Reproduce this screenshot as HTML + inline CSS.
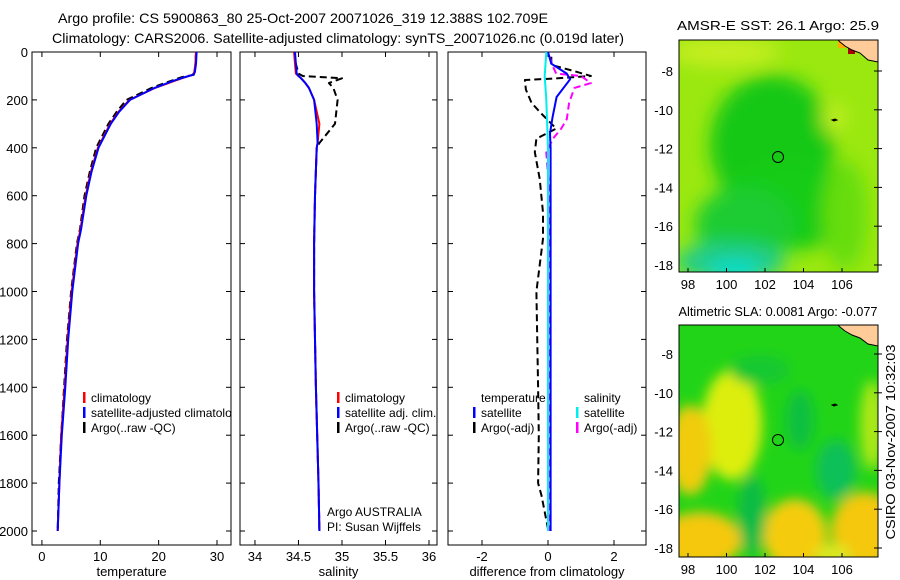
<!DOCTYPE html>
<html><head><meta charset="utf-8">
<style>
html,body{margin:0;padding:0;background:#fff;}
svg{display:block;font-family:"Liberation Sans",sans-serif;font-size:13px;}
</style></head>
<body>
<svg id="chart" width="900" height="580" viewBox="0 0 900 580">
<defs>
<filter id="blur" x="-50%" y="-50%" width="200%" height="200%"><feGaussianBlur stdDeviation="9"/></filter>
<filter id="blur2" x="-50%" y="-50%" width="200%" height="200%"><feGaussianBlur stdDeviation="6"/></filter>
<clipPath id="clipTop"><rect x="679" y="40" width="199" height="232"/></clipPath>
<clipPath id="clipBot"><rect x="679" y="325" width="199" height="232"/></clipPath>
<clipPath id="c1"><rect x="32" y="52" width="199" height="493"/></clipPath>
<clipPath id="c2"><rect x="240" y="52" width="197" height="493"/></clipPath>
<clipPath id="c3"><rect x="448" y="52" width="198" height="493"/></clipPath>
</defs>
<text x="58" y="23" textLength="490" lengthAdjust="spacingAndGlyphs" font-size="14">Argo profile: CS 5900863_80 25-Oct-2007 20071026_319 12.388S 102.709E</text>
<text x="52" y="43" textLength="572" lengthAdjust="spacingAndGlyphs" font-size="14">Climatology: CARS2006. Satellite-adjusted climatology: synTS_20071026.nc (0.019d later)</text>
<g id="panels"></g>

<!-- SST map -->
<text x="778" y="30" text-anchor="middle" textLength="202" lengthAdjust="spacingAndGlyphs">AMSR-E SST: 26.1 Argo: 25.9</text>
<g clip-path="url(#clipTop)">
<rect x="679" y="40" width="199" height="232" fill="#9ae810"/>
<g filter="url(#blur)">
<ellipse cx="772" cy="145" rx="62" ry="70" fill="#14c814"/>
<ellipse cx="790" cy="205" rx="70" ry="45" fill="#18cc18"/>
<ellipse cx="745" cy="225" rx="50" ry="38" fill="#1ccc30"/>
<ellipse cx="730" cy="262" rx="55" ry="20" fill="#22cc88"/>
<ellipse cx="735" cy="272" rx="28" ry="12" fill="#00dccc"/>
<ellipse cx="845" cy="215" rx="22" ry="55" fill="#66dd08"/>
<ellipse cx="834" cy="118" rx="12" ry="16" fill="#c0ee22"/>
<ellipse cx="725" cy="52" rx="55" ry="14" fill="#c8ee22"/>
</g>
<rect x="838" y="40" width="8" height="8" fill="#ffaa00"/>
<rect x="850" y="40" width="7" height="7" fill="#ff8800"/>
<rect x="848" y="47" width="7" height="7" fill="#aa0000"/>
<polygon points="838,40 878,40 878,62 868,60 860,53 852,50 845,46 840,42" fill="#ffcc99" stroke="#000" stroke-width="1"/>
<path d="M832,120 l3,-1 l2,1 l-3,1z" stroke="#000" fill="#000"/>
<circle cx="778" cy="157" r="5.5" fill="none" stroke="#000"/>
</g>
<rect x="679" y="40" width="199" height="232" fill="none" stroke="#000"/>

<!-- SLA map -->
<text x="778" y="316" text-anchor="middle" textLength="199" lengthAdjust="spacingAndGlyphs">Altimetric SLA: 0.0081 Argo: -0.077</text>
<g clip-path="url(#clipBot)">
<rect x="679" y="325" width="199" height="232" fill="#22d418"/>
<g filter="url(#blur2)">
<ellipse cx="732" cy="425" rx="30" ry="55" fill="#ddee11"/>
<ellipse cx="690" cy="450" rx="22" ry="45" fill="#f0cc10"/>
<ellipse cx="700" cy="540" rx="42" ry="28" fill="#f5c810"/>
<ellipse cx="795" cy="535" rx="32" ry="36" fill="#f5cc10"/>
<ellipse cx="865" cy="530" rx="34" ry="38" fill="#f5c810"/>
<ellipse cx="833" cy="556" rx="18" ry="12" fill="#dde820"/>
<ellipse cx="752" cy="515" rx="14" ry="40" fill="#11bb44"/>
<ellipse cx="836" cy="470" rx="20" ry="30" fill="#11c058"/>
<ellipse cx="800" cy="420" rx="14" ry="30" fill="#11c040"/>
<ellipse cx="760" cy="370" rx="30" ry="15" fill="#18c830"/>
<ellipse cx="872" cy="425" rx="12" ry="45" fill="#aee818"/>
</g>
<polygon points="838,325 878,325 878,346 868,344 860,338 852,335 845,331 840,327" fill="#ffcc99" stroke="#000" stroke-width="1"/>
<path d="M832,405 l3,-1 l2,1 l-3,1z" stroke="#000" fill="#000"/>
<circle cx="778" cy="440" r="5.5" fill="none" stroke="#000"/>
</g>
<rect x="679" y="325" width="199" height="232" fill="none" stroke="#000"/>
<g id="mapaxes"></g>
<text transform="translate(895,442) rotate(-90)" text-anchor="middle" textLength="195" lengthAdjust="spacingAndGlyphs">CSIRO 03-Nov-2007 10:32:03</text>
</svg>
<script>
// ---- data ----
const depthTicks = [0,200,400,600,800,1000,1200,1400,1600,1800,2000];
const tempTicks = [0,10,20,30];
const salTicks = [34,34.5,35,35.5,36];
const salTickLabels = ["34","34.5","35","35.5","36"];
const diffTicks = [-2,0,2];
const zT = [0,50,85,95,105,120,150,200,250,300,400,500,600,742,800,1000,1200,1400,1600,1800,2000];
const tempClim = [26.4,26.3,26.1,25.8,24.6,22.8,19.4,15.0,13.1,11.7,9.6,8.4,7.5,6.6,6.1,5.1,4.4,3.9,3.3,3.0,2.7];
const tempSat = [26.5,26.4,26.2,25.9,24.5,22.6,19.3,15.1,13.2,11.8,9.7,8.5,7.6,6.7,6.2,5.2,4.5,4.0,3.4,3.0,2.7];
const tempArgo = [26.4,26.3,26.2,26.0,24.0,22.2,18.8,14.5,12.8,11.4,9.3,8.2,7.3,6.5,6.0,5.0,4.3,3.8,3.3,2.9,2.7];
const zS = [0,50,90,100,110,130,150,200,300,380,400,600,800,1000,1400,1800,2000];
const salClim = [34.45,34.46,34.47,34.50,34.53,34.58,34.62,34.68,34.74,34.72,34.71,34.69,34.68,34.68,34.70,34.73,34.74];
const salSat = [34.46,34.47,34.48,34.50,34.53,34.58,34.62,34.68,34.71,34.72,34.71,34.69,34.68,34.68,34.70,34.73,34.74];
const salArgo = [34.45,34.47,34.50,34.55,35.0,34.85,34.90,34.95,34.92,34.74,34.71,34.69,34.68,34.68,34.70,34.73,34.74];
const zD1 = [0,49,90,114,188,271,340,400,600,1000,1400,1800,2000];
const dTsat = [0,0.1,0.57,0.67,0.26,0.14,0.06,0.08,0.08,0.08,0.08,0.08,0.08];
const zD2 = [20,54,80,100,110,117,157,212,250,320,362,418,530,670,780,1000,1400,1600,1800,1850,1990];
const dTargo = [0.1,0.1,0.8,1.3,0.3,-0.7,-0.67,-0.5,-0.25,0.25,-0.35,-0.4,-0.25,-0.15,-0.15,-0.35,-0.3,-0.28,-0.3,-0.2,0];
const zD3 = [0,100,200,400,1000,2000];
const dSsat = [-0.05,-0.1,-0.05,0,0,0];
const zD4 = [20,60,90,100,130,150,212,280,320,362,420,600,1000,1500,2000];
const dSargo = [0.05,0.15,0.25,1.0,1.3,0.8,0.64,0.57,0.4,0.15,-0.05,0.05,0.05,0.05,0.05];
const lonTicks = [98,100,102,104,106];
const latTicks = [-8,-10,-12,-14,-16,-18];

const NS='http://www.w3.org/2000/svg';
const root=document.getElementById('panels');
function mk(tag,attrs,parent){const e=document.createElementNS(NS,tag);for(const k in attrs)e.setAttribute(k,attrs[k]);(parent||root).appendChild(e);return e;}
const yD = d => 52 + d*0.2395;

const panels=[
 {x0:32,w:199,clip:'c1',vmin:-1.7,vmax:32.4,ticks:tempTicks,labels:tempTicks.map(String),title:'temperature',name:'temperature-panel'},
 {x0:240,w:197,clip:'c2',vmin:33.828,vmax:36.092,ticks:salTicks,labels:salTickLabels,title:'salinity',name:'salinity-panel'},
 {x0:448,w:198,clip:'c3',vmin:-3.03,vmax:2.97,ticks:diffTicks,labels:diffTicks.map(String),title:'difference from climatology',name:'difference-panel'}
];
panels.forEach((p,i)=>{
  p.sx = v => p.x0 + (v-p.vmin)/(p.vmax-p.vmin)*p.w;
  const g=mk('g',{});
  
  
  const fr=mk('rect',{x:p.x0,y:52,width:p.w,height:493,fill:'#fff',stroke:'#000'},g);
  
  
  depthTicks.forEach(d=>{
    const y=yD(d);
    mk('line',{x1:p.x0,x2:p.x0+5,y1:y,y2:y,stroke:'#000'},g);
    mk('line',{x1:p.x0+p.w-5,x2:p.x0+p.w,y1:y,y2:y,stroke:'#000'},g);
    if(i===0){const t=mk('text',{x:p.x0-4,y:y+5,'text-anchor':'end'},g);t.textContent=d;
      
      }
  });
  p.ticks.forEach((v,j)=>{
    const x=p.sx(v);
    mk('line',{x1:x,x2:x,y1:545,y2:540,stroke:'#000'},g);
    mk('line',{x1:x,x2:x,y1:52,y2:57,stroke:'#000'},g);
    const t=mk('text',{x:x,y:561,'text-anchor':'middle'},g);t.textContent=p.labels[j];
    
    
  });
  const tt=mk('text',{x:p.x0+p.w/2,y:576,'text-anchor':'middle'},g);tt.textContent=p.title;
  
  
  p.g=mk('g',{'clip-path':'url(#'+p.clip+')'},g);
});
function line(p,vals,zs,color,dashed,name){
  const pts=vals.map((v,k)=>p.sx(v).toFixed(1)+','+yD(zs[k]).toFixed(1)).join(' ');
  const e=mk('polyline',{points:pts,fill:'none',stroke:color,'stroke-width':2,'stroke-linejoin':'round','stroke-dasharray':dashed?'7,4':'none'},p.g);
  
  
}
line(panels[0],tempArgo,zT,'#000',true,'temperature-argo-line');
line(panels[0],tempClim,zT,'#f00',false,'temperature-climatology-line');
line(panels[0],tempSat,zT,'#00f',false,'temperature-satellite-line');
line(panels[1],salArgo,zS,'#000',true,'salinity-argo-line');
line(panels[1],salClim,zS,'#f00',false,'salinity-climatology-line');
line(panels[1],salSat,zS,'#00f',false,'salinity-satellite-line');
line(panels[2],dTargo,zD2,'#000',true,'temperature-argo-diff-line');
line(panels[2],dSargo,zD4,'#f0f',true,'salinity-argo-diff-line');
line(panels[2],dTsat,zD1,'#00f',false,'temperature-satellite-diff-line');
line(panels[2],dSsat,zD3,'#0ee',false,'salinity-satellite-diff-line');

function legend(g,x,y,color,label){
  const b=mk('rect',{x:x,y:y-10,width:2.5,height:11,fill:color},g);
  
  
  if(label){const t=mk('text',{x:x+8,y:y,'font-size':12},g);t.textContent=label;
    
    }
}
const g1=panels[0].g;
legend(g1,83,402,'#f00','climatology');
legend(g1,83,417,'#00f','satellite-adjusted climatology');
legend(g1,83,432,'#000','Argo(..raw -QC)');
const g2=panels[1].g;
legend(g2,337,402,'#f00','climatology');
legend(g2,337,417,'#00f','satellite adj. clim.');
legend(g2,337,432,'#000','Argo(..raw -QC)');
[['Argo AUSTRALIA',516],['PI: Susan Wijffels',531]].forEach(a=>{const t=mk('text',{x:327,y:a[1],'font-size':12},g2);t.textContent=a[0];
  
  });
const g3=panels[2].g;
[['temperature',481,402],['salinity',584,402]].forEach(a=>{const t=mk('text',{x:a[1],y:a[2],'font-size':12},g3);t.textContent=a[0];
  
  });
legend(g3,473,417,'#00f','satellite');
legend(g3,473,432,'#000','Argo(-adj)');
legend(g3,576,417,'#0ee','satellite');
legend(g3,576,432,'#f0f','Argo(-adj)');

// map axes
const ma=document.getElementById('mapaxes');
[[40,71],[325,354]].forEach((m,mi)=>{
  const top=m[0], y8=m[1];
  lonTicks.forEach(lon=>{
    const x=688+(lon-98)*19.25;
    mk('line',{x1:x,x2:x,y1:top+232,y2:top+228,stroke:'#000'},ma);
    const t=mk('text',{x:x,y:top+249,'text-anchor':'middle'},ma);t.textContent=lon;
    
    
  });
  latTicks.forEach(lat=>{
    const y=y8+(-8-lat)*19.4;
    mk('line',{x1:874,x2:878,y1:y,y2:y,stroke:'#000'},ma);
    mk('line',{x1:878,x2:882,y1:y,y2:y,stroke:'#000'},ma);
    const t=mk('text',{x:673,y:y+5,'text-anchor':'end'},ma);t.textContent=lat;
    
    
  });
});
</script>
</body></html>
